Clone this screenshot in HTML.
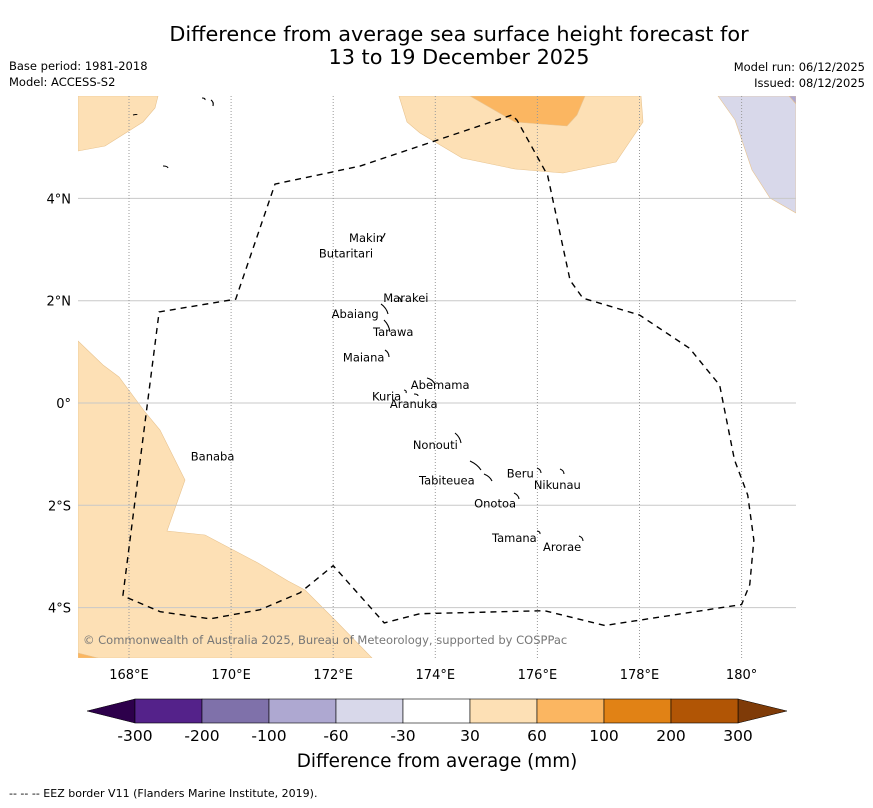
<!DOCTYPE html>
<html><head><meta charset="utf-8">
<style>
body{margin:0;background:#fff;width:873px;height:804px;overflow:hidden;font-family:"DejaVu Sans","Liberation Sans",sans-serif;}
svg text{font-family:"DejaVu Sans","Liberation Sans",sans-serif;}
</style></head>
<body>
<svg id="chart" width="873" height="804" xmlns="http://www.w3.org/2000/svg">
<text x="459" y="41" font-size="20.8" text-anchor="middle">Difference from average sea surface height forecast for</text>
<text x="459" y="64" font-size="20.8" text-anchor="middle">13 to 19 December 2025</text>
<text x="9" y="70" font-size="11.5">Base period: 1981-2018</text>
<text x="9" y="86" font-size="11.5">Model: ACCESS-S2</text>
<text x="865" y="71" font-size="11.5" text-anchor="end">Model run: 06/12/2025</text>
<text x="865" y="87" font-size="11.5" text-anchor="end">Issued: 08/12/2025</text>
<g id="map"></g>
<g id="cbar"></g>
<text x="437" y="767" font-size="18.4" text-anchor="middle">Difference from average (mm)</text>
<text x="9" y="797" font-size="11">--  --  -- EEZ border V11 (Flanders Marine Institute, 2019).</text>
</svg>
<script>
const lonTicks=[168,170,172,174,176,178,180];
const lonLabels=["168°E","170°E","172°E","174°E","176°E","178°E","180°"];
const latTicks=[4,2,0,-2,-4];
const latLabels=["4°N","2°N","0°","2°S","4°S"];
const cbarLevels=["-300","-200","-100","-60","-30","30","60","100","200","300"];
const cbarColors=["#54228a","#7f71aa","#aea8d1","#d8d8ea","#ffffff","#fde0b5","#fbb661","#e18215","#b15505"];
const islandNames=["Makin","Butaritari","Marakei","Abaiang","Tarawa","Maiana","Abemama","Kuria","Aranuka","Banaba","Nonouti","Beru","Nikunau","Tabiteuea","Onotoa","Tamana","Arorae"];
const islandLon=[172.31,171.72,172.98,171.97,172.78,172.19,173.52,172.76,173.11,169.21,173.56,175.40,175.93,173.68,174.76,175.11,176.11];
const islandLat=[3.23,2.92,2.05,1.74,1.39,0.89,0.35,0.13,-0.02,-1.05,-0.82,-1.38,-1.6,-1.52,-1.96,-2.64,-2.82];
// EEZ boundary (lon/lat)
const eezLon=[167.88,168.59,170.09,170.86,172.52,175.5,175.6,176.2,176.64,176.89,178.0,178.98,179.57,179.86,180.12,180.24,180.16,180.0,177.32,176.14,173.7,173.0,172.0,171.35,170.57,169.59,168.61,167.88];
const eezLat=[-3.77,1.78,2.03,4.28,4.63,5.63,5.53,4.45,2.4,2.05,1.72,1.07,0.35,-1.11,-1.8,-2.68,-3.55,-3.94,-4.35,-4.06,-4.12,-4.3,-3.18,-3.71,-4.04,-4.22,-4.08,-3.77];
const W=document.getElementById('map'),NS='http://www.w3.org/2000/svg';
const X0=78,X1=796,Y0=96,Y1=658;
function xs(lon){return 129+(lon-168)*51.05;}
function ys(lat){return 403-lat*51.15;}
function el(t,a,p){const e=document.createElementNS(NS,t);for(const k in a)e.setAttribute(k,a[k]);(p||W).appendChild(e);return e;}
function px2(pts){return pts.map(p=>[168+(p[0]-129)/51.05,(403-p[1])/51.15]);}
const regions=[
 ["#fde0b5",px2([[399,96],[407,122],[420,133],[462,158],[515,169],[563,173],[616,162],[643,122],[641,96]])],
 ["#fbb661",px2([[470,96],[515,122],[567,126],[577,115],[585,96]])],
 ["#d8d8ea",px2([[718,96],[735,120],[752,170],[770,198],[796,213],[796,96]])],
 ["#aea8d1",px2([[789,96],[796,96],[796,104]])],
 ["#fde0b5",px2([[78,96],[158,96],[155,108],[143,122],[105,146],[78,151]])],
 ["#fde0b5",px2([[78,341],[103,365],[119,377],[145,412],[160,430],[185,480],[167,531],[205,535],[258,563],[288,581],[305,590],[335,620],[372,658],[78,658]])],
 ["#fbb661",px2([[78,653],[98,658],[78,658]])]
];
const clip=el('clipPath',{id:'mc'});el('rect',{x:X0,y:Y0,width:X1-X0,height:Y1-Y0},clip);
const g=el('g',{'clip-path':'url(#mc)'});
regions.forEach((r,i)=>{const p=el('polygon',{points:r[1].map(q=>xs(q[0])+','+ys(q[1])).join(' '),fill:r[0],stroke:'#e8c38f','stroke-width':0.6},g);

});
latTicks.forEach((v,i)=>{const y=ys(v);
const l=el('line',{x1:X0,x2:X1,y1:y,y2:y,stroke:'#c8c8c8','stroke-width':1});


const t=el('text',{x:71,y:y+5,'font-size':13,'text-anchor':'end'});t.textContent=latLabels[i];

});
lonTicks.forEach((v,i)=>{const x=xs(v);
const l=el('line',{x1:x,x2:x,y1:Y0,y2:Y1,stroke:'#999','stroke-width':1,'stroke-dasharray':'1 2'});


const t=el('text',{x:x,y:679,'font-size':13,'text-anchor':'middle'});t.textContent=lonLabels[i];

});
const eez=el('polyline',{points:eezLon.map((v,i)=>xs(v)+','+ys(eezLat[i])).join(' '),fill:'none',stroke:'#000','stroke-width':1.4,'stroke-dasharray':'6 5'});


const marks=[[133,115,137,115],[202,98,205,100],[211,100,213,106],[163,166,168,168],[380,241,385,233],[398,297,401,302],[381,304,388,314],[384,320,390,332],[385,350,389,357],[427,378,434,383],[404,390,406,393],[414,394,418,396],[455,433,461,443],[470,461,481,470],[484,474,492,481],[537,468,541,473],[560,469,564,474],[514,493,519,499],[537,531,540,534],[579,536,583,541]];
marks.forEach(m=>{const p=el('path',{d:`M${m[0]},${m[1]} Q${(m[0]+m[2])/2+2},${(m[1]+m[3])/2-1} ${m[2]},${m[3]}`,fill:'none',stroke:'#000','stroke-width':1.1});

});
islandNames.forEach((n,i)=>{const t=el('text',{x:xs(islandLon[i]),y:ys(islandLat[i])+4,'font-size':11.5,'text-anchor':'start'});t.textContent=n;

});
const c=el('text',{x:83,y:644,'font-size':11.5,fill:'#777'});c.textContent='© Commonwealth of Australia 2025, Bureau of Meteorology, supported by COSPPac';


const C=document.getElementById('cbar');const cx0=135,cx1=738,cy0=699,cy1=723;const sw=(cx1-cx0)/cbarColors.length;
const lt=el('polygon',{points:`${cx0},${cy0} ${cx0},${cy1} 87,711`,fill:'#2d004b',stroke:'#000','stroke-width':0.5},C);


const rt=el('polygon',{points:`${cx1},${cy0} ${cx1},${cy1} 787,711`,fill:'#7f3b08',stroke:'#000','stroke-width':0.5},C);


cbarColors.forEach((col,i)=>{const r=el('rect',{x:cx0+i*sw,y:cy0,width:sw,height:cy1-cy0,fill:col,stroke:'#000','stroke-width':0.6},C);

});
cbarLevels.forEach((v,i)=>{const t=el('text',{x:cx0+i*sw,y:741,'font-size':15.5,'text-anchor':'middle'},C);t.textContent=v;

});
</script>
</body></html>
